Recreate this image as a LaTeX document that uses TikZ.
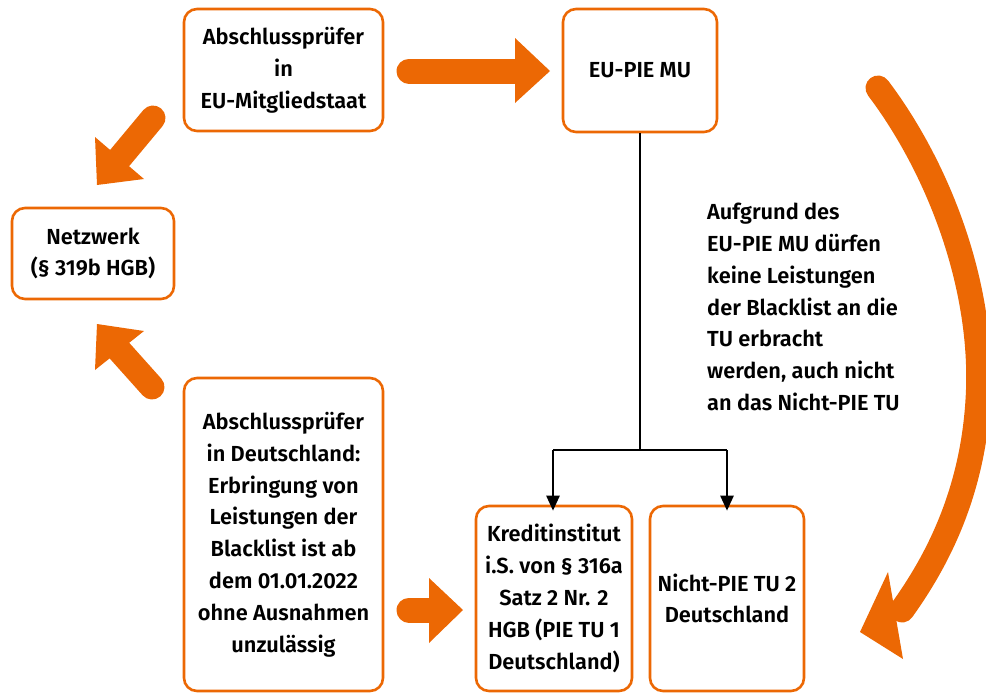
\documentclass[tikz,border=0pt]{standalone}
\usepackage{fontspec}
\setmainfont{Fira Sans}
\newfontfamily\lbl{Fira Sans SemiBold}
\usetikzlibrary{arrows.meta}
\definecolor{og}{RGB}{236,104,4}
\tikzset{
  box/.style={draw=og, line width=2.6pt, rounded corners=13pt, fill=white, align=center, inner sep=0pt,
    font=\lbl\fontsize{21.8}{31.8}\selectfont},
  shaft/.style={draw=og, line width=25pt, line cap=round},
  head/.style={fill=og},
  conn/.style={draw=black, line width=2.5pt, -{Triangle[length=15pt,width=13pt]}},
  plain/.style={draw=black, line width=2.5pt},
  note/.style={align=left, inner sep=0pt, font=\lbl\fontsize{21.8}{31.7}\selectfont}
}
\begin{document}
\begin{tikzpicture}[x=1pt,y=-1pt]
\useasboundingbox (0,0) rectangle (986,694);
\clip (0,0) rectangle (986,694);
% boxes
\node[box, minimum width=199pt, minimum height=122pt] (apeu) at (283.5,70) {Abschlussprüfer\\in\\EU-Mitgliedstaat};
\node[box, minimum width=154pt, minimum height=123pt] (mu) at (640,70.5) {EU-PIE MU};
\node[box, minimum width=162pt, minimum height=91pt] (nw) at (93,253.5) {Netzwerk\\(§ 319b HGB)};
\node[box, minimum width=199pt, minimum height=313pt] (apde) at (283.5,534.5) {Abschlussprüfer\\in Deutschland:\\Erbringung von\\Leistungen der\\Blacklist ist ab\\dem 01.01.2022\\ohne Ausnahmen\\unzulässig};
\node[box, minimum width=156pt, minimum height=185pt] (ki) at (554,598.5) {Kreditinstitut\\i.S. von § 316a\\Satz 2 Nr. 2\\HGB (PIE TU 1\\Deutschland)};
\node[box, minimum width=154pt, minimum height=185pt] (np) at (727,598.5) {Nicht-PIE TU 2\\Deutschland};
\node[note, anchor=west] (txt) at (707,307) {Aufgrund des\\EU-PIE MU dürfen\\keine Leistungen\\der Blacklist an die\\TU erbracht\\werden, auch nicht\\an das Nicht-PIE TU};
% black connectors
\coordinate (split) at (640,450);
\coordinate (sl) at (553,450);
\coordinate (sr) at (727,450);
\draw[plain] (mu.south) -- (split);
\draw[plain] (sl) -- (sr);
\draw[conn] (sl) -- ([yshift=-6pt]ki.north -| sl);
\draw[conn] (sr) -- ([yshift=-6pt]np.north -| sr);
% orange arrow top right
\coordinate (a1s) at (409,71); \coordinate (a1b) at (517,71);
\coordinate (a1t) at (550,71); \coordinate (a1u) at (515,38); \coordinate (a1d) at (515,103);
\draw[shaft] (a1s) -- (a1b);
\fill[head] (a1u) -- (a1t) -- (a1d) -- cycle;
% orange arrow bottom
\coordinate (a2s) at (409,610); \coordinate (a2b) at (431,610);
\coordinate (a2t) at (463,610); \coordinate (a2u) at (429,578); \coordinate (a2d) at (429,643);
\draw[shaft] (a2s) -- (a2b);
\fill[head] (a2u) -- (a2t) -- (a2d) -- cycle;
% orange arrow down-left
\coordinate (a3s) at (153,118); \coordinate (a3b) at (118,160);
\coordinate (a3t) at (97,185); \coordinate (a3u) at (95,137); \coordinate (a3d) at (144,179);
\draw[shaft] (a3s) -- (a3b);
\fill[head] (a3u) -- (a3t) -- (a3d) -- cycle;
% orange arrow up-left
\coordinate (a4s) at (152,387); \coordinate (a4b) at (118,349);
\coordinate (a4t) at (97,324); \coordinate (a4u) at (144,331); \coordinate (a4d) at (95,370);
\draw[shaft] (a4s) -- (a4b);
\fill[head] (a4u) -- (a4t) -- (a4d) -- cycle;
% curved arrow
\coordinate (c1s) at (878,88); \coordinate (c1m) at (978,400); \coordinate (c1b) at (902,610);
\coordinate (c1t) at (860,632); \coordinate (c1u) at (888,572); \coordinate (c1d) at (903,659);
\draw[shaft] (c1s) .. controls (940,170) and (985,290) .. (c1m) .. controls (972,500) and (932,568) .. (c1b);
\fill[head] (c1u) -- (c1t) -- (c1d) -- cycle;
\end{tikzpicture}
\end{document}
